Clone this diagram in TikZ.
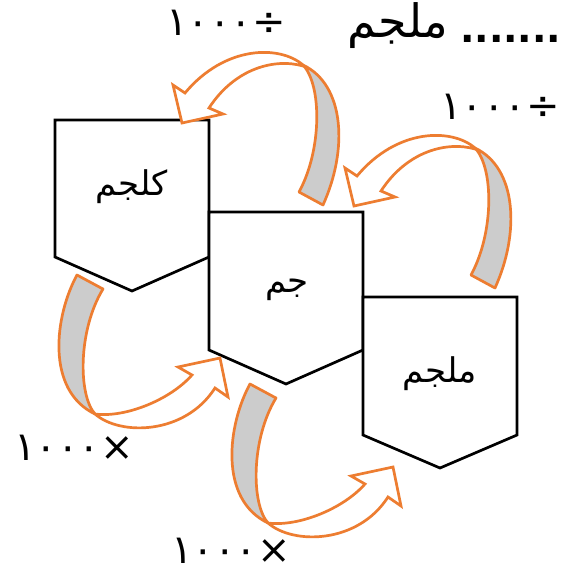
\documentclass[tikz,border=0pt]{standalone}
\usepackage{fontspec}
\newfontfamily\arabicfont[Script=Arabic]{DejaVu Sans}
\newfontfamily\digitfont{DejaVu Sans}
\TeXXeTstate=1
\definecolor{arrorange}{HTML}{ED7D31}
\definecolor{bandgray}{HTML}{CCCCCC}
\tikzset{
  box/.style={draw=black,line width=2.7pt,fill=white,line join=miter},
  band/.style={draw=arrorange,line width=2.7pt,fill=bandgray,line join=round},
  body/.style={draw=arrorange,line width=2.7pt,fill=white,line join=miter},
  lbl/.style={font=\arabicfont\fontsize{34}{40}\selectfont,inner sep=0pt},
  num/.style={font=\digitfont\fontsize{40}{46}\selectfont,inner sep=0pt},
  divarrow/.pic={
    \draw[band] (299,192) -- (323,205) .. controls (348,150) and (345,85) .. (303,65)
       .. controls (322,85) and (322,150) .. (299,192) -- cycle;
    \draw[body] (303,65) .. controls (280,45) and (225,45) .. (185,93) -- (173,85)
       -- (182,123) -- (223,114) -- (209,108) .. controls (235,68) and (275,58) .. (303,66) -- cycle;
  },
  mularrow/.pic={
    \draw[band] (77,275) .. controls (55,315) and (45,390) .. (95,414)
       .. controls (78,395) and (78,330) .. (103,289) -- cycle;
    \draw[body] (95,414) .. controls (120,436) and (185,435) .. (215,388) -- (228,397)
       -- (220,358) -- (178,367) -- (192,375) .. controls (170,400) and (125,418) .. (95,414) -- cycle;
  }
}
\begin{document}
\begin{tikzpicture}[x=1pt,y=-1pt]
\useasboundingbox (0,0) rectangle (561,574);
\clip (0,0) rectangle (561,574);
\fill[white] (0,0) rectangle (561,574);
% boxes
\draw[box] (55,120) -- (209,120) -- (209,257) -- (132,291) -- (55,257) -- cycle;
\draw[box] (209,212) -- (363,212) -- (363,350) -- (286,384) -- (209,350) -- cycle;
\draw[box] (363,297) -- (517,297) -- (517,435) -- (440,468) -- (363,435) -- cycle;
\node[lbl] (kg) at (132,187) {\beginR كلجم\endR};
\node[lbl] (g) at (287,290) {\beginR جم\endR};
\node[lbl] (mg) at (440,374) {\beginR ملجم\endR};
% arrows
\pic at (0,0) {divarrow};
\pic at (172,83) {divarrow};
\pic at (0,0) {mularrow};
\pic at (173,109) {mularrow};
% texts
\node[num] (t1) at (226,23) {١٠٠٠÷};
\node[num] (t2) at (500,107) {١٠٠٠÷};
\node[num] (t3) at (74,448) {١٠٠٠×};
\node[num] (t4) at (231,551) {١٠٠٠×};
\node[font=\arabicfont\fontsize{46}{52}\selectfont,inner sep=0pt] (topmg) at (398,26) {\beginR ملجم\endR};
\node[font=\digitfont\bfseries\fontsize{38}{44}\selectfont,inner sep=0pt,anchor=base west] (dots) at (460,42) {.......};
\end{tikzpicture}
\end{document}
